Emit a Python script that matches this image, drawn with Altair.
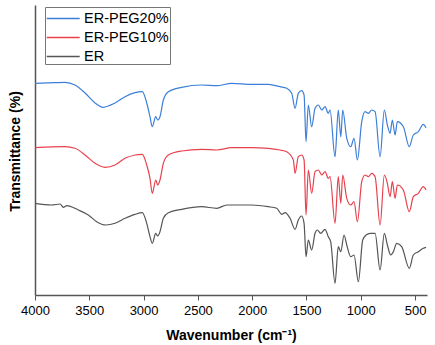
import altair as alt
import pandas as pd

series_names = ["ER-PEG20%", "ER-PEG10%", "ER"]
series_colors = ["#3d7fd8", "#e8414e", "#555555"]

peg20_wn = [4000, 3816, 3724, 3632, 3539, 3447, 3374, 3263, 3171, 3079, 3012, 2971, 2941, 2920, 2888, 2870, 2849, 2818, 2772, 2649, 2465, 2326, 2188, 2004, 1851, 1743, 1682, 1636, 1605, 1575, 1544, 1522, 1504, 1483, 1452, 1421, 1391, 1359, 1329, 1299, 1283, 1237, 1207, 1184, 1166, 1129, 1092, 1062, 1031, 991, 961, 930, 899, 868, 822, 783, 755, 730, 709, 684, 663, 608, 553, 516, 470, 424, 399]
peg20_t = [211.7, 212.3, 212.7, 210, 202, 192, 187.7, 192, 198.3, 202.3, 203.3, 192, 178.3, 168.3, 178.3, 175, 178.3, 195, 203.3, 207.7, 210, 209.3, 211.7, 210.7, 210.7, 208.3, 206.7, 201.7, 186.7, 201.7, 204.3, 200, 153.3, 190, 168.3, 186.7, 190, 185, 188.3, 181.7, 185, 138.3, 185, 158.3, 185, 156.7, 148.3, 156.7, 135, 173.3, 183.3, 181.7, 185, 183.3, 138.3, 185, 170, 161.7, 175, 160, 173.3, 168.3, 148.3, 160, 163.3, 170.7, 167.3]

peg10_wn = [4000, 3724, 3632, 3539, 3447, 3355, 3263, 3171, 3079, 3012, 2971, 2941, 2920, 2888, 2870, 2849, 2818, 2772, 2649, 2465, 2326, 2188, 2004, 1851, 1743, 1682, 1621, 1605, 1575, 1544, 1522, 1504, 1483, 1452, 1421, 1391, 1359, 1329, 1299, 1283, 1237, 1207, 1184, 1166, 1129, 1092, 1062, 1031, 991, 961, 930, 899, 868, 822, 783, 755, 730, 709, 684, 663, 608, 553, 516, 470, 424, 399]
peg10_t = [147.3, 148.3, 146.7, 140, 131.7, 127.7, 130, 136.7, 140, 140.7, 130, 116.7, 101.7, 115, 110, 115, 131.7, 140, 144, 145.7, 145, 147.3, 147.3, 146.7, 145, 143.3, 135, 121.7, 138.3, 140, 135, 80, 125, 101.7, 123.3, 125, 120, 123.3, 116.7, 118.3, 71.7, 118.3, 91.7, 120, 96.7, 90, 93.3, 73.3, 113.3, 120, 118.3, 121.7, 118.3, 70, 120, 111.7, 98.3, 113.3, 96.7, 110, 105, 83.3, 98.3, 101.7, 108.3, 105]

er_wn = [4000, 3846, 3770, 3739, 3708, 3601, 3509, 3432, 3349, 3263, 3171, 3079, 3012, 2971, 2941, 2920, 2888, 2870, 2849, 2818, 2772, 2649, 2465, 2326, 2234, 2004, 1851, 1774, 1728, 1697, 1651, 1605, 1575, 1544, 1522, 1504, 1483, 1452, 1421, 1400, 1369, 1329, 1299, 1277, 1237, 1207, 1184, 1154, 1129, 1092, 1062, 1022, 982, 951, 914, 868, 822, 783, 755, 724, 700, 669, 623, 553, 516, 470, 424, 399]
er_t = [91.7, 90, 91, 87.7, 89.3, 85, 80, 73.3, 70, 71.7, 76.7, 80.7, 82.3, 71.7, 58.3, 51.7, 61.7, 59, 63.3, 76.7, 82.3, 85.7, 88.3, 86.7, 90, 90, 88.3, 86.7, 80.7, 82.3, 76.7, 65.7, 75, 79, 71.7, 38.3, 55, 45, 61.7, 65, 61.7, 65.7, 58.3, 53.3, 11.7, 48.3, 43.3, 60, 50, 38.3, 40, 13.3, 55, 60, 61.7, 61.7, 25, 61.7, 50, 40, 43.3, 51.7, 48.3, 26.7, 40, 43.3, 46.7, 47.7]

x_ticks = [4000, 3500, 3000, 2500, 2000, 1500, 1000, 500]

rows = []
for name, wns, ts in [(series_names[0], peg20_wn, peg20_t),
                      (series_names[1], peg10_wn, peg10_t),
                      (series_names[2], er_wn, er_t)]:
    for i, (w, t) in enumerate(zip(wns, ts)):
        rows.append({"series": name, "wn": w, "t": t, "order": i})
df = pd.DataFrame(rows)

chart = alt.Chart(df).mark_line(strokeWidth=1.2, interpolate="monotone").encode(
    x=alt.X("wn:Q",
            scale=alt.Scale(domain=[4000, 390], nice=False, zero=False),
            axis=alt.Axis(values=x_ticks, format="d", title="Wavenumber (cm⁻¹)", grid=False,
                          labelFontSize=13, labelFont="Liberation Sans", labelColor="#000",
                          titleFontSize=14, titleFont="Liberation Sans", titleFontWeight="bold",
                          titleColor="#000", titlePadding=11, labelPadding=4,
                          tickSize=5, tickColor="#555", domainColor="#555", domainWidth=1.5,
                          labelFlush=False)),
    y=alt.Y("t:Q",
            scale=alt.Scale(domain=[0, 290], nice=False, zero=False),
            axis=alt.Axis(title="Transmittance (%)", labels=False, ticks=False, grid=False,
                          titleFontSize=14, titleFont="Liberation Sans", titleFontWeight="bold",
                          titleColor="#000", titleX=-13, titleY=146,
                          domainColor="#555", domainWidth=1.5)),
    color=alt.Color("series:N",
                    scale=alt.Scale(domain=series_names, range=series_colors),
                    sort=series_names,
                    legend=alt.Legend(title=None, orient="none", legendX=10, legendY=2,
                                      symbolType="M-1,0L2.38,0", symbolSize=380, symbolStrokeWidth=1.5,
                                      labelFontSize=14.5, labelFont="Liberation Sans", labelColor="#000",
                                      strokeColor="#777", fillColor="white", padding=1,
                                      rowPadding=2, labelOffset=17)),
    detail="series:N",
    order="order:Q",
).properties(
    width=392, height=290,
    padding={"left": 35, "top": 5, "right": 8, "bottom": 50},
    autosize=alt.AutoSizeParams(type="none"),
).configure_view(stroke=None)

chart.save("out.html", embed_options={"renderer": "svg", "actions": False})
